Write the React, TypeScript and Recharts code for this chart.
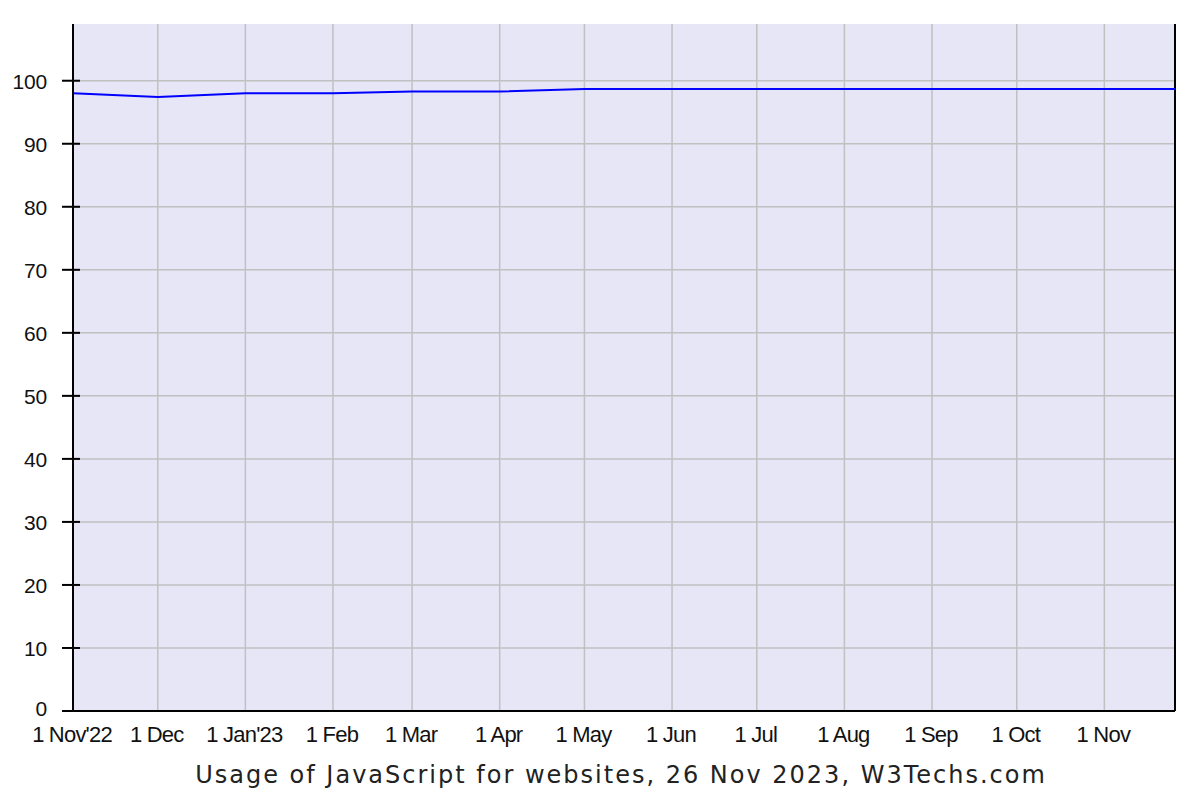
import React from 'react';
import { LineChart, Line, XAxis, YAxis, CartesianGrid, ReferenceLine } from 'recharts';

// daily share of websites using JavaScript (%)
const dates = [
    '2022-11-01', '2022-12-01', '2023-01-01', '2023-02-01', '2023-03-01', '2023-04-01', '2023-05-01',
    '2023-06-01', '2023-07-01', '2023-08-01', '2023-09-01', '2023-10-01', '2023-11-01', '2023-11-26',
];
const usage = [98.0, 97.4, 98.0, 98.0, 98.3, 98.3, 98.7, 98.7, 98.7, 98.7, 98.7, 98.7, 98.7, 98.7];

const tickDates = [
    '2022-11-01', '2022-12-01', '2023-01-01', '2023-02-01', '2023-03-01', '2023-04-01', '2023-05-01',
    '2023-06-01', '2023-07-01', '2023-08-01', '2023-09-01', '2023-10-01', '2023-11-01',
];
const tickLabels = [
    "1 Nov'22", '1 Dec', "1 Jan'23", '1 Feb', '1 Mar', '1 Apr', '1 May',
    '1 Jun', '1 Jul', '1 Aug', '1 Sep', '1 Oct', '1 Nov',
];
const yTicks = [0, 10, 20, 30, 40, 50, 60, 70, 80, 90, 100];

const title = 'Usage of JavaScript for websites, 26 Nov 2023, W3Techs.com';

const toTime = (d: string) => new Date(d + 'T00:00:00Z').getTime();

const data = dates.map((d, i) => ({ t: toTime(d), value: usage[i] }));
const xTicks = tickDates.map(toTime);
const startT = toTime(dates[0]);
const endT = toTime(dates[dates.length - 1]);

const tickFont = { fontFamily: '"Liberation Sans", Arial, sans-serif', fill: '#111' };

const YTick = ({ x, y, payload }: any) => (
    <g>
        <line x1={x - 11} x2={x + 7} y1={y} y2={y} stroke="#000" strokeWidth={2} />
        <text x={x - 26} y={y} dy={payload.value === 0 ? 5 : 8} textAnchor="end" fontSize={21} letterSpacing={-0.2} {...tickFont}>
            {payload.value}
        </text>
    </g>
);

const XTick = ({ x, y, payload }: any) => {
    const idx = xTicks.indexOf(payload.value);
    return (
        <text x={x - 1} y={y} dy={16} textAnchor="middle" fontSize={22} letterSpacing={-0.8} {...tickFont}>
            {tickLabels[idx]}
        </text>
    );
};

const TitleLabel = ({ viewBox }: any) => (
    <text
        x={viewBox.x + viewBox.width / 2 - 3}
        y={viewBox.y + 72}
        textAnchor="middle"
        fontFamily='"DejaVu Sans", Verdana, sans-serif'
        fontSize={24}
        letterSpacing={2}
        fill="#222"
    >
        {title}
    </text>
);

export default function App() {
    return (
        <div style={{ position: 'absolute', left: 0, top: 0, width: 1200, height: 802, background: '#fff' }}>
            <LineChart width={1200} height={802} data={data} margin={{ top: 24, right: 25, bottom: 0, left: 0 }}>
                <CartesianGrid
                    fill="#E6E6F7"
                    stroke="#C0C0C0"
                    strokeWidth={1.5}
                    horizontal={false}
                    verticalValues={xTicks}
                />
                {yTicks.map((v) => (
                    <ReferenceLine key={v} y={v} stroke="#C0C0C0" strokeWidth={1.5} />
                ))}
                <XAxis
                    dataKey="t"
                    type="number"
                    scale="time"
                    domain={[startT, endT]}
                    ticks={xTicks}
                    interval={0}
                    height={91}
                    tickLine={false}
                    tickSize={0}
                    tickMargin={15}
                    axisLine={{ stroke: '#000', strokeWidth: 2 }}
                    tick={<XTick />}
                    label={<TitleLabel />}
                />
                <YAxis
                    type="number"
                    domain={[0, 109]}
                    ticks={yTicks}
                    interval={0}
                    width={73}
                    tickLine={false}
                    tickSize={0}
                    tickMargin={0}
                    axisLine={{ stroke: '#000', strokeWidth: 2 }}
                    tick={<YTick />}
                    allowDataOverflow
                />
                <ReferenceLine x={endT} stroke="#000" strokeWidth={2} />
                <Line
                    type="linear"
                    dataKey="value"
                    stroke="#0000FF"
                    strokeWidth={2}
                    dot={false}
                    isAnimationActive={false}
                />
            </LineChart>
        </div>
    );
}
